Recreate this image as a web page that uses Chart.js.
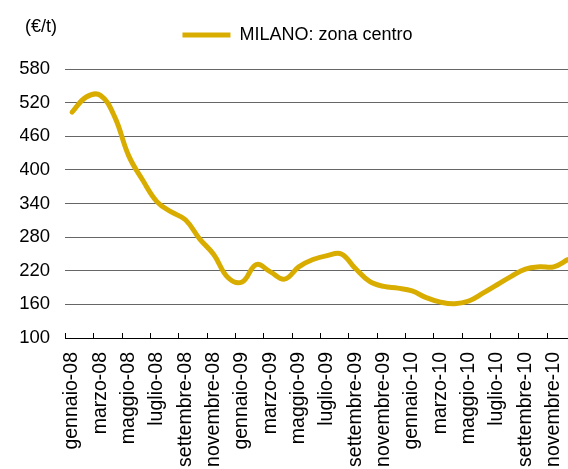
<!DOCTYPE html>
<html>
<head>
<meta charset="utf-8">
<script src="https://cdn.jsdelivr.net/npm/chart.js@4/dist/chart.umd.min.js"></script>
<style>
  html, body { margin: 0; padding: 0; background: #fff; overflow: hidden; width: 568px; height: 469px; }
  #wrap { position: relative; width: 576px; height: 469px; }
</style>
</head>
<body>
<div id="wrap"><canvas id="c"></canvas></div>
<script>
const months = [
  'gennaio-08','febbraio-08','marzo-08','aprile-08','maggio-08','giugno-08','luglio-08','agosto-08','settembre-08','ottobre-08','novembre-08','dicembre-08',
  'gennaio-09','febbraio-09','marzo-09','aprile-09','maggio-09','giugno-09','luglio-09','agosto-09','settembre-09','ottobre-09','novembre-09','dicembre-09',
  'gennaio-10','febbraio-10','marzo-10','aprile-10','maggio-10','giugno-10','luglio-10','agosto-10','settembre-10','ottobre-10','novembre-10','dicembre-10'
];
const milanoCentro = [
  503, 530, 533, 495, 425, 381, 343, 325, 311, 277, 249, 208,
  200, 231, 218, 205, 227, 240, 247, 250, 224, 201, 192, 189,
  184, 172, 164, 161, 166, 180, 195, 210, 223, 227, 227, 240
];
const yTicks = { min: 100, max: 580, step: 60 };
const seriesName = 'MILANO: zona centro';
const unitLabel = '(€/t)';
const lineColor = '#D9AD00';

const FONT = 'Liberation Sans, Arial, sans-serif';

const extras = {
  id: 'extras',
  beforeInit(chart) {
    const lg = chart.legend;
    if (lg) {
      const orig = lg.fit;
      lg.fit = function () { orig.call(this); this.height += 15; };
    }
  },
  afterDraw(chart) {
    const ctx = chart.ctx;
    const xs = chart.scales.x;
    ctx.save();
    ctx.strokeStyle = '#000';
    ctx.lineWidth = 1;
    const n = months.length;
    const half = (xs.getPixelForValue(1) - xs.getPixelForValue(0)) / 2;
    for (let i = 0; i <= n; i += 2) {
      const c0 = xs.getPixelForValue(Math.min(i, n - 1));
      const x = Math.round(i < n ? c0 - half : c0 + half) + 0.5;
      ctx.beginPath();
      ctx.moveTo(x, xs.top);
      ctx.lineTo(x, xs.top - 5);
      ctx.stroke();
    }
    ctx.fillStyle = '#000';
    ctx.font = '18px ' + FONT;
    ctx.textBaseline = 'alphabetic';
    ctx.textAlign = 'left';
    ctx.fillText(unitLabel, 25, 32);
    ctx.restore();
  }
};

new Chart(document.getElementById('c'), {
  type: 'line',
  data: {
    labels: months,
    datasets: [{
      label: seriesName,
      data: milanoCentro,
      borderColor: lineColor,
      backgroundColor: lineColor,
      borderWidth: 5,
      pointRadius: 0,
      tension: 0.4,
      fill: false,
      borderCapStyle: 'round'
    }]
  },
  options: {
    responsive: true,
    maintainAspectRatio: false,
    animation: false,
    layout: { padding: { left: 20, right: 1, top: 16, bottom: 0 } },
    plugins: {
      tooltip: { enabled: false },
      legend: {
        display: true,
        position: 'top',
        labels: {
          color: '#000',
          font: { family: FONT, size: 18 },
          boxWidth: 48,
          boxHeight: 5,
          padding: 10,
          generateLabels(chart) {
            const items = Chart.defaults.plugins.legend.labels.generateLabels(chart);
            items.forEach(it => { it.lineWidth = 0; it.fillStyle = lineColor; });
            return items;
          }
        }
      }
    },
    scales: {
      x: {
        type: 'category',
        offset: true,
        grid: { display: true, drawOnChartArea: false, drawTicks: false, color: 'rgba(0,0,0,0)', offset: true },
        border: { display: true, color: '#000', width: 1 },
        afterFit(scale) { scale.paddingLeft = 0; scale.paddingRight = 0; scale.height = 131; },
        ticks: {
          autoSkip: false,
          minRotation: 90,
          maxRotation: 90,
          padding: 14,
          color: '#000',
          font: { family: FONT, size: 19.5 },
          callback(v, i) { return i % 2 === 0 ? months[i] : ''; }
        }
      },
      y: {
        min: yTicks.min,
        max: yTicks.max,
        grid: { color: '#666', lineWidth: 1, drawTicks: false },
        border: { display: false },
        afterFit(scale) { scale.width = 45; },
        ticks: {
          stepSize: yTicks.step,
          padding: 15,
          color: '#000',
          font: { family: FONT, size: 18.5 }
        }
      }
    }
  },
  plugins: [extras]
});
</script>
</body>
</html>
